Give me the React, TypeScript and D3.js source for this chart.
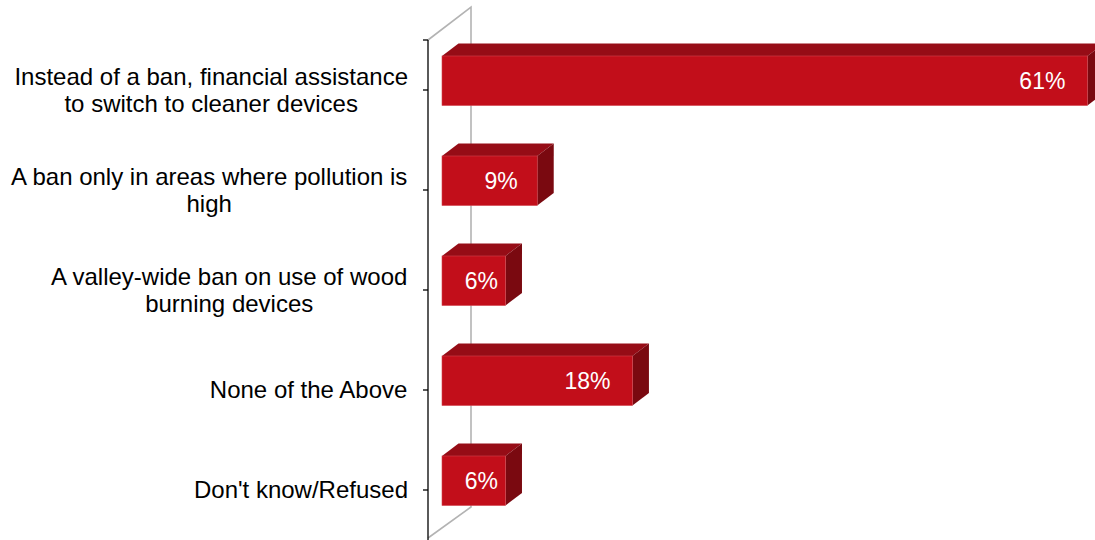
import React from "react";
import * as d3 from "d3";

const categories = [
  "Instead of a ban, financial assistance to switch to cleaner devices",
  "A ban only in areas where pollution is high",
  "A valley-wide ban on use of wood burning devices",
  "None of the Above",
  "Don't know/Refused",
];
const categoryLines = [
  ["Instead of a ban, financial assistance", "to switch to cleaner devices"],
  ["A ban only in areas where pollution is", "high"],
  ["A valley-wide ban on use of wood", "burning devices"],
  ["None of the Above"],
  ["Don't know/Refused"],
];
const values = [61, 9, 6, 18, 6];

const W = 1095;
const H = 540;
const FONT = "'Liberation Sans', Arial, sans-serif";
const FS = 24;
const VFS = 23;

let ctx: CanvasRenderingContext2D | null = null;
function measure(t: string) {
  if (!ctx) ctx = document.createElement("canvas").getContext("2d");
  if (!ctx) return t.length * FS * 0.5;
  ctx.font = `${FS}px ${FONT}`;
  return ctx.measureText(t).width;
}

export default function App() {
  const y = d3.scaleBand<string>().domain(categories).range([40, 540]);
  const x = d3.scaleLinear().domain([0, 100]).range([442, 1500]);
  const axisX = 428;
  const wallDx = 43, wallDy = 33;
  const bdx = 16.5, bdy = 12.5;
  const labelRight = 408;
  const lineH = 27;

  return (
    <svg width={W} height={H} style={{ position: "absolute", left: 0, top: 0, background: "#fff" }}>
      {/* side wall */}
      <path
        d={`M${axisX},${y.range()[0]} L${axisX + wallDx},${y.range()[0] - wallDy} L${axisX + wallDx},${y.range()[1] - wallDy} L${axisX},${y.range()[1] - 2}`}
        fill="none"
        stroke="#b3b3b3"
        strokeWidth={1.6}
      />
      {/* axis */}
      <line x1={axisX} x2={axisX} y1={40} y2={H} stroke="#000" strokeWidth={1.3} />
      <line x1={axisX - 5} x2={axisX} y1={40} y2={40} stroke="#000" strokeWidth={1.3} />
      {categories.map((c) => {
        const cy = (y(c) as number) + y.bandwidth() / 2;
        return <line key={"t" + c} x1={axisX - 5} x2={axisX} y1={cy} y2={cy} stroke="#000" strokeWidth={1.3} />;
      })}
      {/* labels */}
      {categories.map((c, i) => {
        const cy = (y(c) as number) + y.bandwidth() / 2;
        const lines = categoryLines[i];
        const maxW = Math.max(...lines.map(measure));
        const cx = labelRight - maxW / 2;
        const y0 = cy - ((lines.length - 1) * lineH) / 2;
        return (
          <text key={"l" + c} fontFamily={FONT} fontSize={FS} fill="#000" textAnchor="middle">
            {lines.map((ln, k) => (
              <tspan key={k} x={cx} y={y0 + k * lineH} dy="0.35em">
                {ln}
              </tspan>
            ))}
          </text>
        );
      })}
      {/* bars */}
      {categories.map((c, i) => {
        const cy = (y(c) as number) + y.bandwidth() / 2;
        const top = cy - 34;
        const bot = cy + 15.5;
        const x0 = x(0);
        const x1 = x(values[i]);
        const w = x1 - x0;
        const lc = x1 - Math.min(0.38 * w, 45);
        return (
          <g key={"b" + c}>
            <path
              d={`M${x0},${top} L${x0 + bdx},${top - bdy} L${x1 + bdx},${top - bdy} L${x1},${top} Z`}
              fill="#960c16"
            />
            <path
              d={`M${x1},${top} L${x1 + bdx},${top - bdy} L${x1 + bdx},${bot - bdy} L${x1},${bot} Z`}
              fill="#7a0910"
            />
            <rect x={x0} y={top} width={w} height={bot - top} fill="#c20e1a" stroke="#d3424c" strokeWidth={0.6} />
            <text
              x={lc}
              y={(top + bot) / 2}
              dy="0.35em"
              textAnchor="middle"
              fontFamily={FONT}
              fontSize={VFS}
              fill="#fff"
            >
              {values[i]}%
            </text>
          </g>
        );
      })}
    </svg>
  );
}
